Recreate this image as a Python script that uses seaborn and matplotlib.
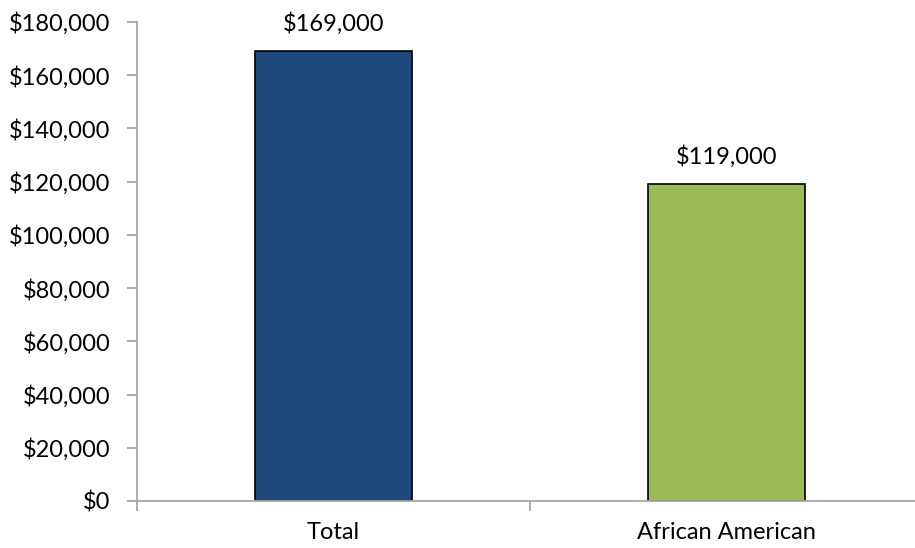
import matplotlib
matplotlib.use("Agg")
import matplotlib.pyplot as plt
import seaborn as sns
import pandas as pd
from matplotlib.ticker import FuncFormatter

categories = ["Total", "African American"]
values = [169000, 119000]
bar_colors = ["#1F497D", "#9BBB59"]
y_ticks = list(range(0, 180001, 20000))

sns.set_theme(style="white")
plt.rcParams["font.family"] = ["Lato", "DejaVu Sans"]
plt.rcParams["text.color"] = "black"
plt.rcParams["xtick.color"] = "black"
plt.rcParams["ytick.color"] = "black"

df = pd.DataFrame({"group": categories, "value": values})

fig = plt.figure(figsize=(9.15, 5.48), dpi=100)
ax = fig.add_axes([137 / 915, 47 / 548, (923 - 137) / 915, 479 / 548])

sns.barplot(data=df, x="group", y="value", hue="group", palette=bar_colors,
            width=0.4, edgecolor="black", linewidth=1.2, legend=False, ax=ax,
            saturation=1)

ax.set_ylim(0, 180000)
ax.set_xlim(-0.5, 1.5)
ax.set_yticks(y_ticks)
ax.yaxis.set_major_formatter(FuncFormatter(lambda v, _: f"${v:,.0f}"))
ax.set_xticks([-0.5, 0.5, 1.5], minor=False)
ax.set_xticklabels(["", "", ""])
ax.set_xticks([0, 1], minor=True)
ax.set_xticklabels(categories, minor=True)
ax.set_xlabel("")
ax.set_ylabel("")

axis_gray = "#A6A6A6"
for side in ["top", "right"]:
    ax.spines[side].set_visible(False)
for side in ["left", "bottom"]:
    ax.spines[side].set_color(axis_gray)
    ax.spines[side].set_linewidth(1.3)

ax.tick_params(axis="y", which="major", direction="out", length=7, width=1.3,
               color=axis_gray, labelcolor="black", labelsize=17, pad=12, left=True)
ax.tick_params(axis="x", which="major", direction="out", length=7, width=1.3,
               color=axis_gray, bottom=True)
ax.tick_params(axis="x", which="minor", length=0, labelsize=17, labelcolor="black",
               pad=15)

for i, v in enumerate(values):
    ax.annotate(f"${v:,.0f}", (i, v), xytext=(0, 12), textcoords="offset points",
                ha="center", va="bottom", fontsize=17, color="black")

fig.savefig("out.png", dpi=100)
